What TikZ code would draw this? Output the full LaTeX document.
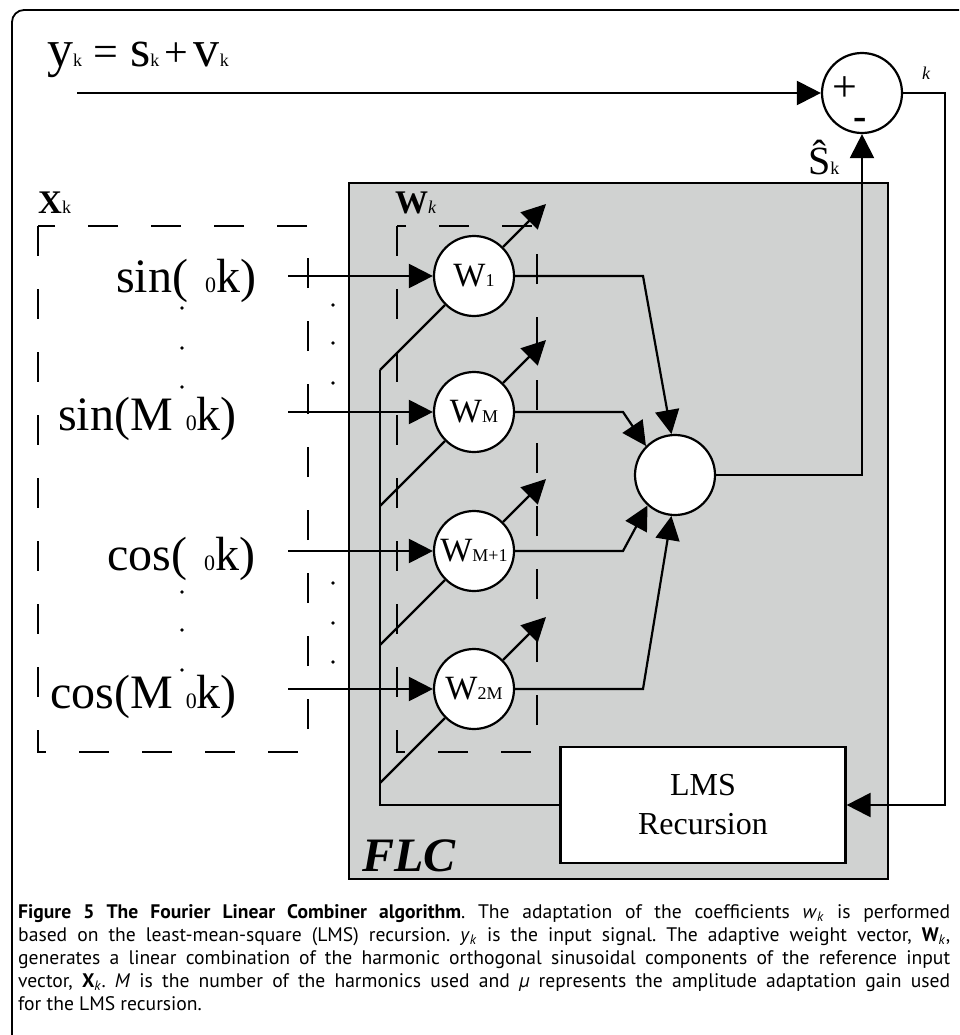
\documentclass[tikz,border=0pt]{standalone}
\usepackage{fontspec}
\setmainfont{Liberation Serif}
\setsansfont{PT Sans}
\usepackage{tikz}
\usetikzlibrary{calc,arrows.meta}

\definecolor{flcgray}{RGB}{208,210,209}
\newcommand{\bigsig}{\fontsize{48}{50}\selectfont}
\newcommand{\subsz}{\fontsize{18}{20}\selectfont}
\newcommand{\zsub}{\fontsize{22}{24}\selectfont}
\newcommand{\wfont}{\fontsize{34}{36}\selectfont}

\tikzset{
  wire/.style={line width=2.2pt},
  sig/.style={wire,-{Triangle[length=24pt,width=24pt]}},
  wnode/.style={circle,draw,fill=white,line width=2.2pt,minimum size=80pt,inner sep=0pt,font=\wfont},
  dashbox/.style={line width=2.2pt,dash pattern=on 30pt off 33pt},
  lmsbox/.style={rectangle,draw,fill=white,line width=2.2pt,minimum width=285pt,minimum height=116pt,align=center,font=\fontsize{32}{39}\selectfont},
  lbl/.style={inner sep=0pt,anchor=base west},
}

\begin{document}
\begin{tikzpicture}[x=1pt,y=-1pt]
  \useasboundingbox (0,0) rectangle (959,1035);
  \clip (0,0) rectangle (959,1035);
  % outer frame
  \draw[line width=1.8pt,rounded corners=12pt] (12,10) rectangle (1000,1060);

  % FLC block
  \draw[wire,fill=flcgray] (349,183) rectangle (888,879);
  \node[lbl,font=\bfseries\itshape\fontsize{48}{50}\selectfont] (flc) at (362,871) {FLC};

  % reference vector X_k and weight vector W_k
  \draw[dashbox] (38,226) rectangle (308,752);
  \draw[dashbox] (397,226) rectangle (537,752);
  \node[lbl] (xlab) at (38,213) {{\fontsize{33}{35}\selectfont\bfseries X}{\subsz k}};
  \node[lbl] (wlab) at (395,213) {{\fontsize{33}{35}\selectfont\bfseries W}{\subsz\itshape k}};

  % signal y_k
  \node[lbl] (ysig) at (47,67) {\fontsize{52}{54}\selectfont y{\subsz k}\hspace{11pt}{\fontsize{44}{44}\selectfont=}\hspace{12pt}s{\subsz k}\hspace{5pt}{\fontsize{42}{44}\selectfont+}\hspace{6pt}v{\subsz k}};

  % harmonic inputs
  \node[lbl] (sin1) at (116,292) {\bigsig sin(\hspace{17pt}{\zsub 0}k)};
  \node[lbl] (sinM) at (58,430) {\bigsig sin(M\hspace{13pt}{\zsub 0}k)};
  \node[lbl] (cos1) at (107,570) {\bigsig cos(\hspace{17pt}{\zsub 0}k)};
  \node[lbl] (cosM) at (50,708) {\bigsig cos(M\hspace{13pt}{\zsub 0}k)};
  \foreach \x/\y in {182/308,182/348,182/387,182/592,182/630,182/670,
                     333/305,333/343,333/383,333/583,333/623,333/662}
    \fill (\x,\y) circle (1.8pt);

  % weights
  \node[wnode] (w1) at (474,276) {W{\subsz 1}};
  \node[wnode] (wM) at (474,412) {W{\subsz M}};
  \node[wnode] (wM1) at (474,551) {W{\subsz M+1}};
  \node[wnode] (w2M) at (474,689) {W{\subsz 2M}};

  % combiner, error and LMS
  \node[wnode] (comb) at (675,475) {};
  \node[wnode] (sum) at (862,93) {};
  \node[inner sep=0pt,font=\fontsize{44}{44}\selectfont] (plus) at (845,89) {+};
  \node[inner sep=0pt,font=\bfseries\fontsize{40}{40}\selectfont] (minus) at (860,124) {-};
  \node[lmsbox] (lms) at (703,805) {LMS\\Recursion};
  \node[lbl] (shat) at (808,175) {\fontsize{40}{42}\selectfont Ŝ{\subsz k}};
  \node[lbl] (eps) at (922,80) {\subsz\itshape k};

  \coordinate (yin) at (77,93);
  \coordinate (err) at (945,93);
  \coordinate (wtop) at ($(w1)+(-94,94)$);
  \coordinate (i1) at (288,276);
  \coordinate (i2) at (288,412);
  \coordinate (i3) at (288,551);
  \coordinate (i4) at (288,689);

  \draw[sig] (yin) -- (sum);
  \draw[sig] (sum) -- (err) |- (lms);
  \draw[sig] (comb) -| (sum);
  \draw[wire] (lms) -| (wtop);

  \draw[sig] (i1) -- (w1);
  \draw[sig] (i2) -- (wM);
  \draw[sig] (i3) -- (wM1);
  \draw[sig] (i4) -- (w2M);

  \foreach \n in {w1,wM,wM1,w2M} {
    \draw[wire] ($(\n)+(-94,94)$) -- (\n.225);
    \draw[sig] (\n.45) -- ($(\n)+(72,-72)$);
  }

  \draw[sig] (w1) -- (643,276) -- (comb.95);
  \draw[sig] (wM) -- (623,412) -- (comb.135);
  \draw[sig] (wM1) -- (623,551) -- (comb.228);
  \draw[sig] (w2M) -- (643,689) -- (comb.265);

  % caption
  \node[anchor=north west,inner sep=0pt,text width=932pt,align=justify,
        font=\sffamily\fontsize{19.6}{23}\selectfont\frenchspacing] (cap) at (18,904)
  {\textbf{Figure 5 The Fourier Linear Combiner algorithm}. The adaptation of the coefficients \textit{w}\textsubscript{\textit{k}} is performed\linebreak
   based on the least-mean-square (LMS) recursion. \textit{y}\textsubscript{\textit{k}} is the input signal. The adaptive weight vector, \textbf{W}\textsubscript{\textit{k}},\linebreak
   generates a linear combination of the harmonic orthogonal sinusoidal components of the reference input\linebreak
   vector, \textbf{X}\textsubscript{\textit{k}}. \textit{M} is the number of the harmonics used and \textit{µ} represents the amplitude adaptation gain used\linebreak
   for the LMS recursion.};
\end{tikzpicture}
\end{document}
